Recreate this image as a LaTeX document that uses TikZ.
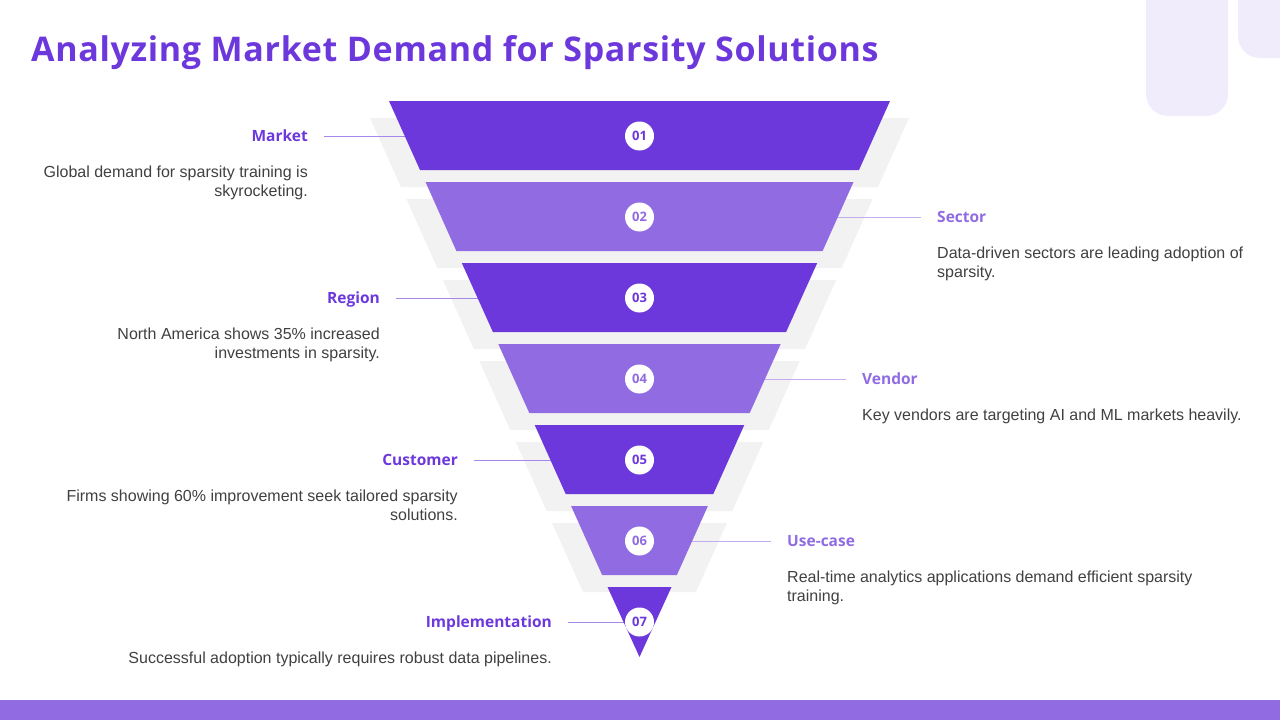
\documentclass[tikz,border=0pt]{standalone}
\usepackage{fontspec}
\setmainfont{Liberation Sans}
\newfontfamily\fuentetitulo[LetterSpace=2.0]{Open Sans}
\newfontfamily\fuenteetiq{Open Sans}

\definecolor{morado}{RGB}{108,56,220}
\definecolor{lila}{RGB}{144,107,226}
\definecolor{sombra}{RGB}{242,242,242}
\definecolor{lavanda}{RGB}{240,236,251}
\definecolor{gristexto}{RGB}{64,64,64}

\begin{document}
\begin{tikzpicture}[
            x=1pt, y=-1pt,
            franja/.style={fill=sombra},
            numero/.style={circle, fill=white, minimum size=29pt, inner sep=0pt,
                           font=\fuenteetiq\bfseries\fontsize{13}{13}\selectfont},
            etiq/.style={inner sep=0pt,
                         font=\fuenteetiq\bfseries\fontsize{15.5}{18}\selectfont},
            desc/.style={inner sep=0pt, text=gristexto,
                         font=\fontsize{16}{19}\selectfont},
            linea/.style={line width=0.8pt}
        ]
        \useasboundingbox (0,0) rectangle (1280,720);

        % Fondo: adornos y barra inferior
        \begin{scope}
            \clip (0,0) rectangle (1280,720);
            \fill[lavanda, rounded corners=22pt] (1146,-40) rectangle (1228,116);
            \fill[lavanda, rounded corners=22pt] (1238,-40) rectangle (1330,58);
        \end{scope}
        \fill[lila] (0,700) rectangle (1280,720);

        % Titulo
        \node[anchor=base west, inner sep=0pt, text=morado,
              font=\fuentetitulo\bfseries\fontsize{34}{40}\selectfont]
              (titulo) at (31,61) {Analyzing Market Demand for Sparsity Solutions};

        % --- Sombras del embudo ---
        \fill[franja] (370,118) -- (909,118) -- (878,187) -- (401,187) -- cycle;
        \fill[franja] (406.4,199) -- (872.6,199) -- (841.6,268) -- (437.4,268) -- cycle;
        \fill[franja] (442.8,280) -- (836.2,280) -- (805.1,349) -- (473.9,349) -- cycle;
        \fill[franja] (479.3,361) -- (799.7,361) -- (768.7,430) -- (510.3,430) -- cycle;
        \fill[franja] (515.7,442) -- (763.3,442) -- (732.3,511) -- (546.7,511) -- cycle;
        \fill[franja] (552.1,523) -- (726.9,523) -- (695.9,592) -- (583.1,592) -- cycle;

        % Centros de cada nivel
        \coordinate (n1) at (639.5,136);
        \coordinate (n2) at (639.5,217);
        \coordinate (n3) at (639.5,298);
        \coordinate (n4) at (639.5,379);
        \coordinate (n5) at (639.5,460);
        \coordinate (n6) at (639.5,541);
        \coordinate (n7) at (639.5,622);

        % --- Etiquetas y textos ---
        \node[etiq, text=morado, anchor=base east] (e1) at (308,141.5) {Market};
        \node[desc, align=right, anchor=north east] (d1) at (308,166)
            {Global demand for sparsity training is\\skyrocketing.};
        \node[etiq, text=lila, anchor=base west] (e2) at (937,222.5) {Sector};
        \node[desc, align=left, anchor=north west] (d2) at (937,246.5)
            {Data-driven sectors are leading adoption of\\sparsity.};
        \node[etiq, text=morado, anchor=base east] (e3) at (380,303.5) {Region};
        \node[desc, align=right, anchor=north east] (d3) at (380,327.5)
            {North America shows 35\% increased\\investments in sparsity.};
        \node[etiq, text=lila, anchor=base west] (e4) at (862,384.5) {Vendor};
        \node[desc, align=left, anchor=north west] (d4) at (862,408.5)
            {Key vendors are targeting AI and ML markets heavily.};
        \node[etiq, text=morado, anchor=base east] (e5) at (458,465.5) {Customer};
        \node[desc, align=right, anchor=north east] (d5) at (458,490)
            {Firms showing 60\% improvement seek tailored sparsity\\solutions.};
        \node[etiq, text=lila, anchor=base west] (e6) at (787,546.5) {Use-case};
        \node[desc, align=left, anchor=north west] (d6) at (787,571)
            {Real-time analytics applications demand efficient sparsity\\training.};
        \node[etiq, text=morado, anchor=base east] (e7) at (552,627.5) {Implementation};
        \node[desc, align=right, anchor=north east] (d7) at (552,652)
            {Successful adoption typically requires robust data pipelines.};

        % Lineas hacia el embudo
        \draw[linea, morado!60] ([xshift=16pt]n1 -| e1.east) -- (n1);
        \draw[linea, lila!55]   ([xshift=-16pt]n2 -| e2.west) -- (n2);
        \draw[linea, morado!60] ([xshift=16pt]n3 -| e3.east) -- (n3);
        \draw[linea, lila!55]   ([xshift=-16pt]n4 -| e4.west) -- (n4);
        \draw[linea, morado!60] ([xshift=16pt]n5 -| e5.east) -- (n5);
        \draw[linea, lila!55]   ([xshift=-16pt]n6 -| e6.west) -- (n6);
        \draw[linea, morado!60] ([xshift=16pt]n7 -| e7.east) -- (n7);

        % --- Niveles del embudo ---
        \fill[morado] (389,101) -- (890,101) -- (859,170) -- (420,170) -- cycle;
        \fill[lila]   (425.5,182) -- (853.5,182) -- (822.6,251) -- (456.4,251) -- cycle;
        \fill[morado] (461.8,263) -- (817.2,263) -- (786.1,332) -- (492.9,332) -- cycle;
        \fill[lila]   (498.3,344) -- (780.7,344) -- (749.7,413) -- (529.3,413) -- cycle;
        \fill[morado] (534.7,425) -- (744.3,425) -- (713.3,494) -- (565.7,494) -- cycle;
        \fill[lila]   (571.1,506) -- (707.9,506) -- (676.9,575) -- (602.1,575) -- cycle;
        \fill[morado] (607.5,587) -- (671.5,587) -- (639.5,657) -- cycle;

        % Numeros
        \node[numero, text=morado] (c1) at (n1) {01};
        \node[numero, text=lila]   (c2) at (n2) {02};
        \node[numero, text=morado] (c3) at (n3) {03};
        \node[numero, text=lila]   (c4) at (n4) {04};
        \node[numero, text=morado] (c5) at (n5) {05};
        \node[numero, text=lila]   (c6) at (n6) {06};
        \node[numero, text=morado] (c7) at (n7) {07};

\end{tikzpicture}
\end{document}
